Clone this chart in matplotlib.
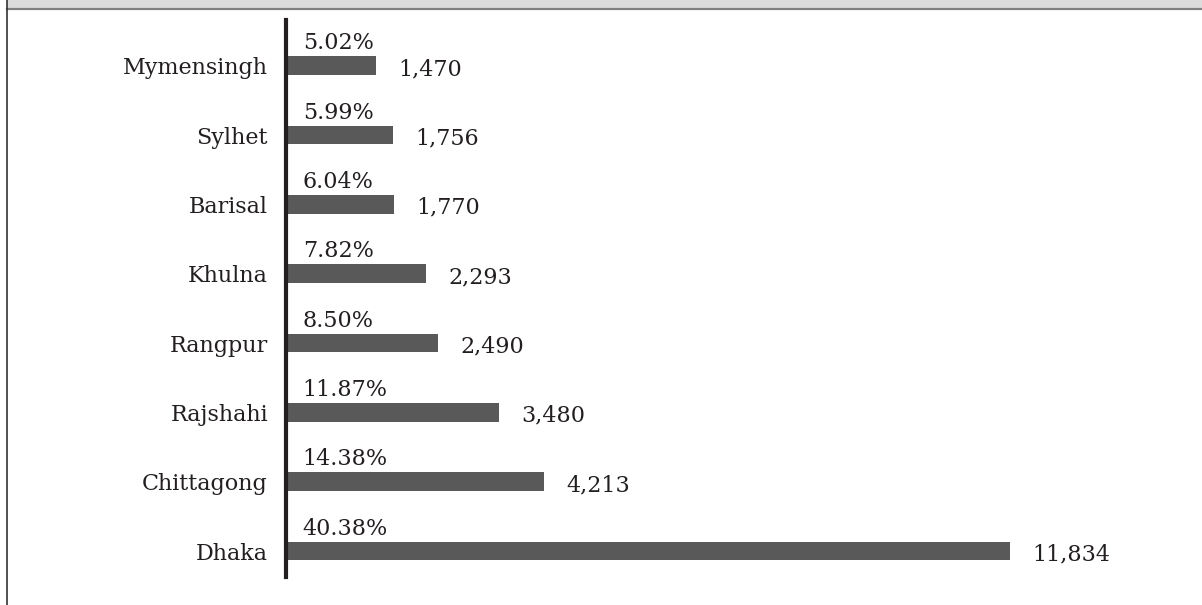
import matplotlib
matplotlib.use('Agg')
import matplotlib.pyplot as plt
from matplotlib.patches import Rectangle
from matplotlib.lines import Line2D

# Divisions, top to bottom
divisions = ['Mymensingh', 'Sylhet', 'Barisal', 'Khulna', 'Rangpur',
             'Rajshahi', 'Chittagong', 'Dhaka']
counts = [1470, 1756, 1770, 2293, 2490, 3480, 4213, 11834]
shares = [5.02, 5.99, 6.04, 7.82, 8.50, 11.87, 14.38, 40.38]

plt.rcParams['font.family'] = ['DejaVu Serif']
text_color = '#231f20'
bar_color = '#595959'
fs = 16

W, H = 1202, 605
fig = plt.figure(figsize=(W / 100, H / 100), dpi=100)
fig.patch.set_facecolor('white')

# header strip and the frame line down the left side
fig.add_artist(Rectangle((7 / W, 1 - 8 / H), 1, 8 / H, transform=fig.transFigure,
                         facecolor='#dcdcdc', edgecolor='none'))
fig.add_artist(Line2D([7 / W, 1], [1 - 9 / H, 1 - 9 / H], transform=fig.transFigure,
                      color='#808080', linewidth=1.6))
fig.add_artist(Line2D([7 / W, 7 / W], [0, 1], transform=fig.transFigure,
                      color='#333333', linewidth=1.2))

left, right = 286, 1180
top, bottom = 20, 577
ax = fig.add_axes([left / W, 1 - bottom / H, (right - left) / W, (bottom - top) / H])

ypos = list(range(len(divisions)))
bh = 0.27
ax.barh(ypos, counts, height=bh, color=bar_color, left=0)
ax.set_xlim(0, (right - left) / 0.0612)
ax.set_ylim(7.375, -0.66)

ax.set_yticks(ypos)
ax.set_yticklabels(divisions, fontsize=fs, color=text_color)
ax.tick_params(axis='y', length=0, pad=13)
ax.set_xticks([])
for side in ['top', 'right', 'bottom']:
    ax.spines[side].set_visible(False)
ax.spines['left'].set_linewidth(3)
ax.spines['left'].set_color('#231f20')

for y, c, s in zip(ypos, counts, shares):
    ax.annotate(f'{s:.2f}%', xy=(0, y - bh / 2), xytext=(12, 5),
                textcoords='offset points', ha='left', va='baseline',
                fontsize=fs, color=text_color)
    ax.annotate(f'{c:,}', xy=(c, y + bh / 2), xytext=(16, 0),
                textcoords='offset points', ha='left', va='baseline',
                fontsize=fs, color=text_color)

plt.savefig('out.png', dpi=100)
